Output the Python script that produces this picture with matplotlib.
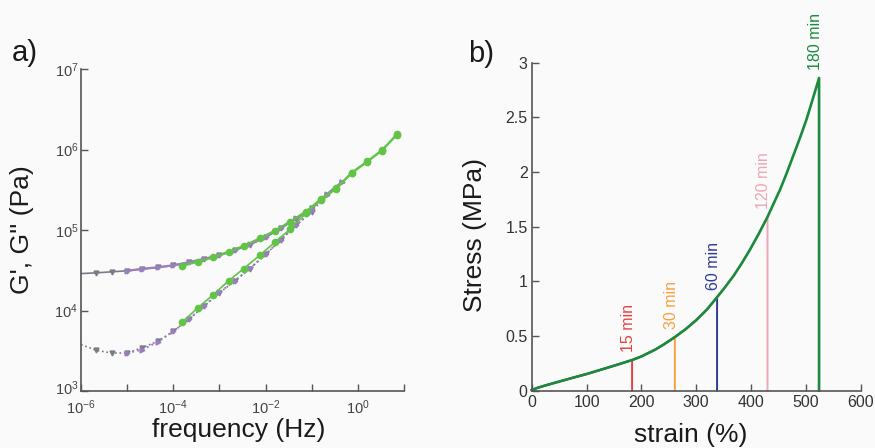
import numpy as np
import matplotlib
matplotlib.use('Agg')
import matplotlib.pyplot as plt
import matplotlib.transforms as mtransforms
from matplotlib.ticker import FuncFormatter, NullLocator

plt.rcParams['font.family'] = ['Liberation Sans', 'DejaVu Sans']
plt.rcParams['mathtext.default'] = 'regular'

# ---- panel a: frequency sweep (Hz, Pa) ----
freq_gray = [1e-6, 2.15e-6, 4.64e-6, 1e-5, 2.15e-5, 4.64e-5, 1e-4, 2.15e-4,
             4.64e-4, 1e-3, 2.15e-3, 4.64e-3, 1e-2, 2.15e-2, 4.64e-2, 0.1]
g1_gray = [2.88e4, 2.94e4, 3.03e4, 3.12e4, 3.27e4, 3.44e4, 3.63e4, 3.96e4,
           4.36e4, 4.84e4, 5.62e4, 6.61e4, 8.13e4, 1.05e5, 1.38e5, 1.86e5]
g2_gray = [3.78e3, 3.21e3, 2.97e3, 2.97e3, 3.47e3, 4.17e3, 5.53e3, 7.76e3,
           1.13e4, 1.66e4, 2.32e4, 3.33e4, 4.98e4, 7.52e4, 1.15e5, 1.69e5]

freq_purple = [1e-5, 2.15e-5, 4.64e-5, 1e-4, 2.15e-4, 4.64e-4, 1e-3, 2.15e-3,
               4.64e-3, 1e-2, 2.15e-2, 4.64e-2, 0.1, 0.215, 0.464]
g1_purple = [3.12e4, 3.3e4, 3.45e4, 3.65e4, 3.98e4, 4.38e4, 4.88e4, 5.65e4,
             6.65e4, 8.2e4, 1.06e5, 1.4e5, 1.88e5, 2.8e5, 4.0e5]
g2_purple = [2.97e3, 3.27e3, 4.1e3, 5.5e3, 7.8e3, 1.14e4, 1.68e4, 2.35e4,
             3.35e4, 5.0e4, 7.6e4, 1.16e5, 1.7e5, 2.75e5, 3.9e5]

freq_green = [1.58e-4, 3.39e-4, 7.41e-4, 1.58e-3, 3.39e-3, 7.41e-3, 1.58e-2,
              3.39e-2, 7.41e-2, 0.158, 0.339, 0.741, 1.58, 3.39, 7.08]
g1_green = [3.6e4, 4.04e4, 4.57e4, 5.37e4, 6.38e4, 7.87e4, 9.82e4, 1.27e5,
            1.69e5, 2.41e5, 3.3e5, 5.18e5, 7.1e5, 9.9e5, 1.55e6]
g2_green = [7.23e3, 1.08e4, 1.58e4, 2.34e4, 3.33e4, 4.84e4, 7.02e4, 1.02e5,
            1.61e5, 2.36e5, 3.24e5, 5.07e5, 6.95e5, 9.7e5, 1.52e6]

# ---- panel b: tensile curve (strain %, stress MPa) ----
strain = [0, 10, 25, 50, 75, 100, 125, 150, 183, 200, 225, 240, 261, 280, 300,
          320, 338, 350, 368, 383, 398, 414, 430, 441, 453, 465, 477, 489,
          501, 512, 524]
stress = [0.005, 0.025, 0.048, 0.083, 0.118, 0.152, 0.19, 0.228, 0.28, 0.313,
          0.375, 0.42, 0.49, 0.56, 0.645, 0.745, 0.855, 0.93, 1.05, 1.165,
          1.29, 1.435, 1.59, 1.71, 1.84, 1.99, 2.15, 2.31, 2.48, 2.66, 2.86]
break_strain = [183, 261, 338, 430, 524]
cure_labels = ['15 min', '30 min', '60 min', '120 min', '180 min']
cure_colors = ['#e8413f', '#f6a23c', '#2e3a96', '#eca7b2', '#1b8a3c']
stress_ticks = [0, 0.5, 1, 1.5, 2, 2.5, 3]
stress_ticklabels = ['0', '0.5', '1', '1.5', '2', '2.5', '3']

bg = '#fafafa'
axis_col = '#555555'

fig = plt.figure(figsize=(8.75, 4.48), dpi=100)
fig.patch.set_facecolor(bg)
ax1 = fig.add_axes([0.0926, 0.127, 0.369, 0.719])
ax2 = fig.add_axes([0.6077, 0.128, 0.376, 0.732])

for ax in (ax1, ax2):
    ax.set_facecolor('none')
    for s in ('top', 'right'):
        ax.spines[s].set_visible(False)
    for s in ('left', 'bottom'):
        ax.spines[s].set_color(axis_col)
        ax.spines[s].set_linewidth(1.2)
    ax.tick_params(direction='in', length=5, width=1, color=axis_col)

# panel a
ax1.plot(freq_gray, g1_gray, '-', color='#7c7a84', lw=1.2, marker='v', ms=3.5,
         markevery=slice(1, None))
ax1.plot(freq_gray, g2_gray, ':', color='#7c7a84', lw=1.2, marker='v', ms=3.5,
         markevery=slice(1, None))
ax1.plot(freq_purple, g1_purple, '-', color='#9a7fbf', lw=1.6, marker='>', ms=3.5)
ax1.plot(freq_purple, g2_purple, ':', color='#9a7fbf', lw=1.4, marker='>', ms=3.5)
ax1.plot(freq_green, g1_green, '-', color='#62c447', lw=1.5, marker='o', ms=4.5)
ax1.plot(freq_green, g2_green, '-', color='#62c447', lw=1.2, marker='o', ms=4.5)

ax1.set_xscale('log')
ax1.set_yscale('log')
ax1.set_xlim(1e-6, 1e1)
ax1.set_ylim(1e3, 1e7)
ax1.set_xticks([10.0 ** k for k in range(-6, 2)])
ax1.set_yticks([10.0 ** k for k in range(3, 8)])
ax1.xaxis.set_minor_locator(NullLocator())
ax1.yaxis.set_minor_locator(NullLocator())


def dec_label(v, pos, keep_odd=True):
    k = int(round(np.log10(v)))
    if not keep_odd and k % 2:
        return ''
    return r'$10^{%d}$' % k


ax1.xaxis.set_major_formatter(FuncFormatter(lambda v, p: dec_label(v, p, False)))
ax1.yaxis.set_major_formatter(FuncFormatter(dec_label))
ax1.tick_params(axis='both', labelsize=10.5, labelcolor='#444444')
ax1.tick_params(axis='x', pad=5)
ax1.tick_params(axis='y', pad=2)

# lift the bottom y label a little so it clears the first x label
fig.canvas.draw()
lift = mtransforms.ScaledTranslation(0, 4 / 100, fig.dpi_scale_trans)
ylab0 = ax1.yaxis.get_major_ticks()[0].label1
ylab0.set_transform(ylab0.get_transform() + lift)

ax1.set_xlabel('frequency (Hz)', fontsize=19, color='#1a1a1a')
ax1.xaxis.set_label_coords(0.488, -0.084)
ax1.xaxis.label.set_va('top')
ax1.set_ylabel("G', G'' (Pa)", fontsize=19, color='#1a1a1a')
ax1.yaxis.set_label_coords(-0.1455, 0.5)

# panel b: each sample follows the common curve up to its break strain
for b, c in zip(break_strain, cure_colors):
    xs = [s for s in strain if s <= b] + [b]
    ys = [stress[i] for i, s in enumerate(strain) if s <= b] + [0]
    lw = 1.9 if c == cure_colors[-1] else 1.4
    ax2.plot(xs, ys, color=c, lw=lw, solid_joinstyle='round', clip_on=False)
for b, lab, c in zip(break_strain, cure_labels, cure_colors):
    top = stress[strain.index(b)]
    ax2.text(b - 7, top + 0.07, lab, rotation=90, ha='center', va='bottom',
             color=c, fontsize=11.5, clip_on=False)

ax2.set_xlim(0, 600)
ax2.set_ylim(0, 3)
ax2.set_xticks(range(0, 601, 100))
ax2.set_yticks(stress_ticks)
ax2.set_yticklabels(stress_ticklabels)
ax2.tick_params(axis='both', labelsize=11.5, labelcolor='#333333', pad=3)
ax2.set_xlabel('strain (%)', fontsize=19, color='#1a1a1a')
ax2.xaxis.set_label_coords(0.484, -0.098)
ax2.xaxis.label.set_va('top')
ax2.set_ylabel('Stress (MPa)', fontsize=19, color='#1a1a1a')
ax2.yaxis.set_label_coords(-0.136, 0.475)

fig.text(12 / 875, 1 - 39 / 448, 'a)', fontsize=21, va='top', ha='left', color='#1a1a1a')
fig.text(468 / 875, 1 - 40 / 448, 'b)', fontsize=21, va='top', ha='left', color='#1a1a1a')

fig.savefig('out.png', dpi=100, facecolor=bg)
